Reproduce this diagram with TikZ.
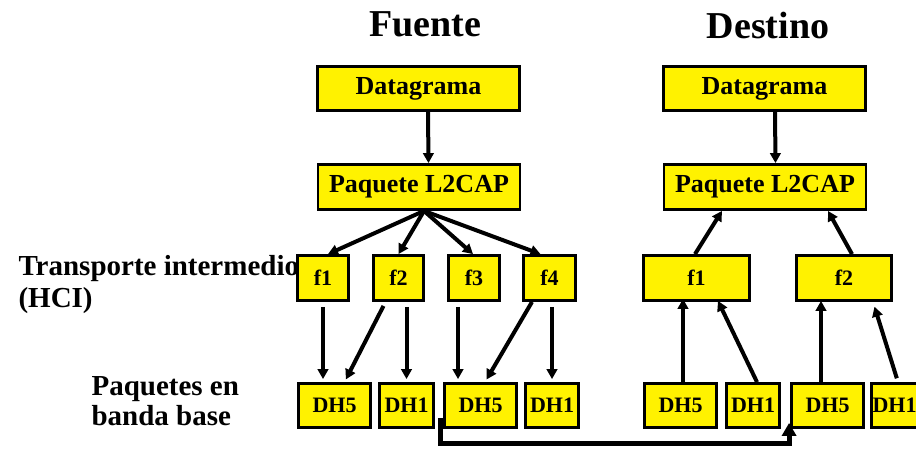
\documentclass[tikz,border=0pt]{standalone}
\usepackage{fontspec}
\setmainfont{Liberation Serif}
\usetikzlibrary{arrows.meta,calc}

\tikzset{
  box/.style={draw=black, line width=2.8pt, fill=yellow, inner sep=0pt,
    font=\fontsize{22}{24}\selectfont\bfseries},
  bigbox/.style={box, minimum width=202pt, minimum height=44pt,
    font=\fontsize{26}{28}\selectfont\bfseries},
  fbox/.style={box, minimum height=45pt},
  dhbox/.style={box, minimum height=44pt},
  flow/.style={line width=4pt, -{Triangle[length=10pt,width=10.5pt]}},
  title/.style={anchor=base, font=\fontsize{38}{40}\selectfont\bfseries},
  side/.style={anchor=base west, font=\fontsize{29}{31}\selectfont\bfseries}
}

\begin{document}
\begin{tikzpicture}[x=1pt,y=-1pt]
  \useasboundingbox (0,0) rectangle (916,469);
  \fill[white] (0,0) rectangle (916,469);

  % column titles and row labels
  \node[title] (tsrc) at (425,36) {Fuente};
  \node[title] (tdst) at (768,38) {Destino};
  \node[side] (lhci1) at (15,275) {Transporte intermedio};
  \node[side] (lhci2) at (15,307) {(HCI)};
  \node[side] (lbb1) at (88,395) {Paquetes en};
  \node[side] (lbb2) at (88,425) {banda base};

  % source side
  \node[bigbox] (fdg) at (418.5,88.5) {Datagrama};
  \node[bigbox, minimum height=45pt] (fl2) at (419,187) {Paquete L2CAP};
  \node[fbox, minimum width=51pt] (ff1) at (323,278) {f1};
  \node[fbox, minimum width=50pt] (ff2) at (398.5,278) {f2};
  \node[fbox, minimum width=51pt] (ff3) at (474,278) {f3};
  \node[fbox, minimum width=52pt] (ff4) at (549.5,278) {f4};
  \node[dhbox, minimum width=72pt] (fdh5a) at (334.5,405.5) {DH5};
  \node[dhbox, minimum width=54pt] (fdh1a) at (406.5,405.5) {DH1};
  \node[dhbox, minimum width=72pt] (fdh5b) at (480.5,405.5) {DH5};
  \node[dhbox, minimum width=53pt] (fdh1b) at (552,405.5) {DH1};

  % destination side
  \node[bigbox] (ddg) at (764.5,88.5) {Datagrama};
  \node[bigbox, minimum height=45pt] (dl2) at (765,187) {Paquete L2CAP};
  \node[fbox, minimum width=106pt] (df1) at (696.5,278) {f1};
  \node[fbox, minimum width=95pt] (df2) at (844,278) {f2};
  \node[dhbox, minimum width=72pt] (ddh5a) at (680.5,405.5) {DH5};
  \node[dhbox, minimum width=53pt] (ddh1a) at (753,405.5) {DH1};
  \node[dhbox, minimum width=72pt] (ddh5b) at (827.5,405.5) {DH5};
  \node[dhbox, minimum width=46pt] (ddh1b) at (894.5,405.5) {DH1};

  % segmentation at the source
  \draw[flow] ([xshift=9.5pt]fdg.south) -- ([xshift=9.5pt]fl2.north);
  \draw[flow] ([xshift=5pt]fl2.south) -- ([xshift=5pt]ff1.north);
  \draw[flow] ([xshift=5pt]fl2.south) -- (ff2.north);
  \draw[flow] ([xshift=5pt]fl2.south) -- ([xshift=-1pt]ff3.north);
  \draw[flow] ([xshift=5pt]fl2.south) -- ([xshift=-9pt]ff4.north);

  \draw[flow, shorten <=5pt, shorten >=3pt] (ff1.south) -- (ff1.south |- fdh5a.north);
  \draw[flow, shorten >=3pt] ([xshift=-15pt,yshift=-4pt]ff2.south) -- ([xshift=10pt]fdh5a.north);
  \draw[flow, shorten <=5pt, shorten >=3pt] (fdh1a.north |- ff2.south) -- (fdh1a.north);
  \draw[flow, shorten <=5pt, shorten >=3pt] ([xshift=-16pt]ff3.south) -- ([xshift=-16pt]ff3.south |- fdh5b.north);
  \draw[flow, shorten >=3pt] ([xshift=-17.5pt]ff4.south) -- ([xshift=4.5pt]fdh5b.north);
  \draw[flow, shorten <=5pt, shorten >=3pt] (fdh1b.north |- ff4.south) -- (fdh1b.north);

  % reassembly at the destination
  \draw[flow] ([xshift=10.5pt]ddg.south) -- ([xshift=10.5pt]dl2.north);
  \draw[flow] ([xshift=2.5pt]ddh5a.north) -- ([xshift=2.5pt,yshift=3pt]ddh5a.north |- df1.south);
  \draw[flow] ([xshift=4pt]ddh1a.north) -- ([xshift=21.5pt,yshift=1pt]df1.south);
  \draw[flow] ([xshift=-6.5pt]ddh5b.north) -- ([xshift=-6.5pt,yshift=1pt]ddh5b.north |- df2.south);
  \draw[flow, shorten <=4pt, shorten >=5pt] ([xshift=3.5pt]ddh1b.north) -- ([xshift=29pt]df2.south);
  \draw[flow] ([xshift=-1.5pt]df1.north) -- ([xshift=-43pt]dl2.south);
  \draw[flow] ([xshift=8pt]df2.north) -- ([xshift=63pt]dl2.south);

  % radio link from source to destination
  \draw[line width=5pt, -{Triangle[length=13pt,width=14pt]}]
    ([shift={(-3pt,11pt)}]fdh5b.south west) -- ++(0,26) -| ([shift={(-1pt,6pt)}]ddh5b.south west);
\end{tikzpicture}
\end{document}
